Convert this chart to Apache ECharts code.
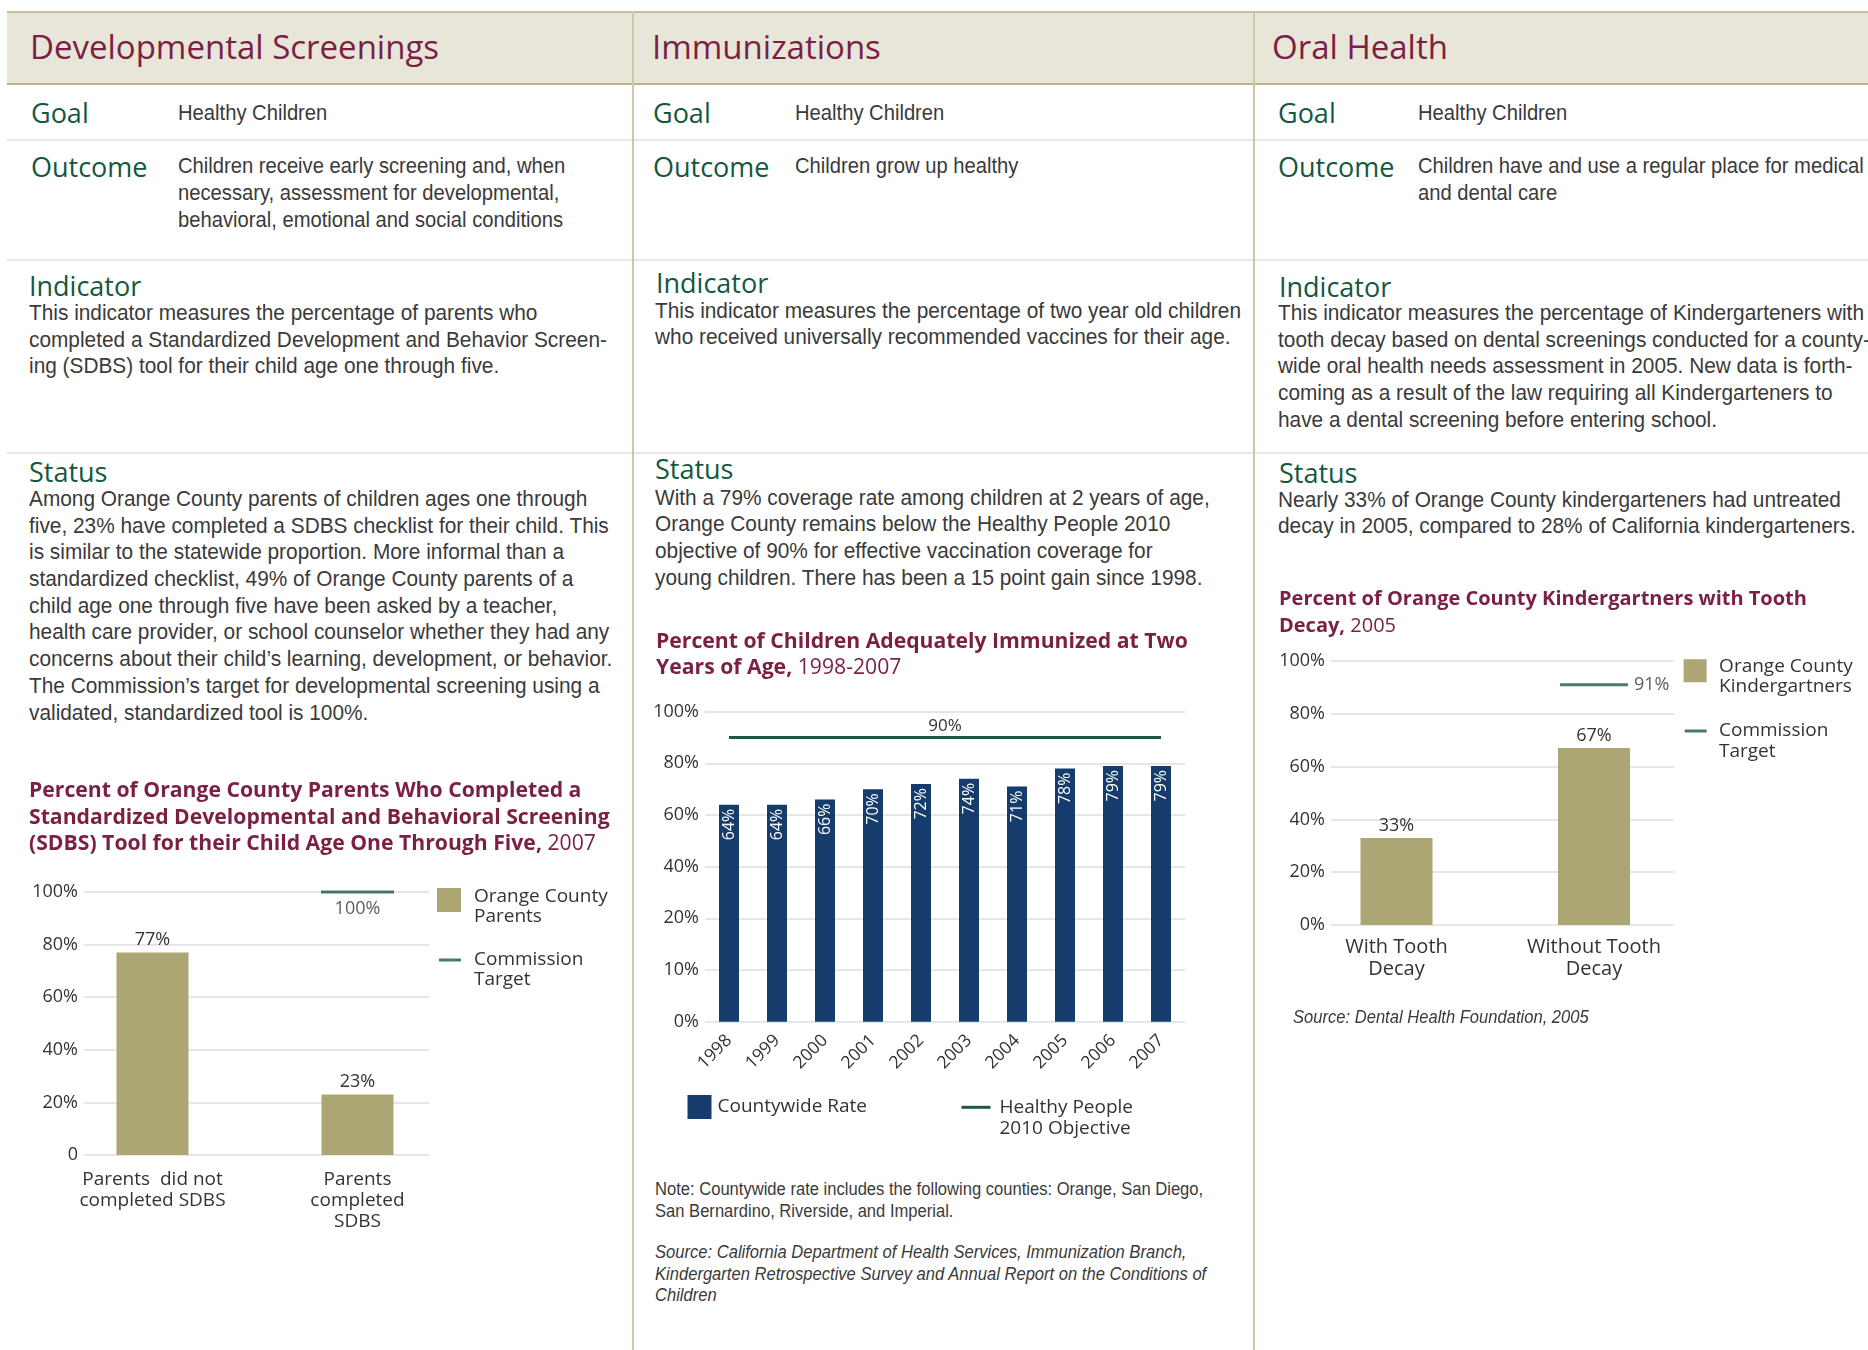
<!DOCTYPE html>
<html>
<head>
<meta charset="utf-8">
<title>Healthy Children indicators</title>
<script src="https://cdn.jsdelivr.net/npm/echarts@6/dist/echarts.min.js"></script>
<style>
  html, body { margin: 0; padding: 0; background: #fff; }
  #page { position: relative; width: 1868px; height: 1350px; overflow: hidden; background: #fff; }
  .band { position: absolute; left: 7px; top: 11px; width: 1861px; height: 70px; background: #e8e5d9;
          border-top: 2px solid #c3bf9c; border-bottom: 2px solid #b8b38d; }
  .vline { position: absolute; top: 11px; width: 2px; height: 1339px; background: #ccc9aa; z-index: 5; }
  .hline { position: absolute; left: 7px; width: 1861px; height: 2px; background: #e7e7e4; }
  .t { position: absolute; white-space: nowrap; z-index: 6; }
  .head { font-family: 'Open Sans', sans-serif; font-size: 33px; color: #7b1f44; line-height: 40px; }
  .lab { font-family: 'Open Sans', sans-serif; font-size: 27px; color: #12593e; line-height: 30px; font-weight: 500; }
  .body { font-family: 'Liberation Sans', Arial, sans-serif; font-size: 22px; line-height: 26.7px; color: #3a3a3a;
          transform: scaleX(0.947); transform-origin: 0 0; }
  .val { transform: scaleX(0.918); }
  .note { font-size: 17.5px; line-height: 22.6px; }
  .src { font-style: italic; line-height: 21.5px; }
  .chart { position: absolute; }
</style>
</head>
<body>
<div id="page">
  <div class="band"></div>
  <div class="hline" style="top:139px"></div>
  <div class="hline" style="top:259px"></div>
  <div class="hline" style="top:452px"></div>

  <!-- column 1 -->
  <div class="t head" style="left:30px;top:26.7px">Developmental Screenings</div>
  <div class="t lab" style="left:31px;top:98.3px">Goal</div>
  <div class="t body val" style="left:178px;top:100px">Healthy Children</div>
  <div class="t lab" style="left:31px;top:151.7px">Outcome</div>
  <div class="t body val" style="left:178px;top:153.3px">Children receive early screening and, when<br>necessary, assessment for developmental,<br>behavioral, emotional and social conditions</div>
  <div class="t lab" style="left:29px;top:271px">Indicator</div>
  <div class="t body" style="left:29px;top:300px">This indicator measures the percentage of parents who<br>completed a Standardized Development and Behavior Screen-<br>ing (SDBS) tool for their child age one through five.</div>
  <div class="t lab" style="left:29px;top:456.8px">Status</div>
  <div class="t body" style="left:29px;top:485.9px">Among Orange County parents of children ages one through<br>five, 23% have completed a SDBS checklist for their child. This<br>is similar to the statewide proportion. More informal than a<br>standardized checklist, 49% of Orange County parents of a<br>child age one through five have been asked by a teacher,<br>health care provider, or school counselor whether they had any<br>concerns about their child’s learning, development, or behavior.<br>The Commission’s target for developmental screening using a<br>validated, standardized tool is 100%.</div>

  <!-- column 2 -->
  <div class="t head" style="left:652px;top:26.7px">Immunizations</div>
  <div class="t lab" style="left:653px;top:98.3px">Goal</div>
  <div class="t body val" style="left:795px;top:100px">Healthy Children</div>
  <div class="t lab" style="left:653px;top:151.7px">Outcome</div>
  <div class="t body val" style="left:795px;top:153.3px">Children grow up healthy</div>
  <div class="t lab" style="left:656px;top:268.3px">Indicator</div>
  <div class="t body" style="left:655px;top:297.7px">This indicator measures the percentage of two year old children<br>who received universally recommended vaccines for their age.</div>
  <div class="t lab" style="left:655px;top:454.4px">Status</div>
  <div class="t body" style="left:655px;top:484.7px">With a 79% coverage rate among children at 2 years of age,<br>Orange County remains below the Healthy People 2010<br>objective of 90% for effective vaccination coverage for<br>young children. There has been a 15 point gain since 1998.</div>
  <div class="t body note" style="left:655px;top:1177.7px">Note: Countywide rate includes the following counties: Orange, San Diego,<br>San Bernardino, Riverside, and Imperial.</div>
  <div class="t body note src" style="left:655px;top:1242px">Source: California Department of Health Services, Immunization Branch,<br>Kindergarten Retrospective Survey and Annual Report on the Conditions of<br>Children</div>

  <!-- column 3 -->
  <div class="t head" style="left:1272px;top:26.7px">Oral Health</div>
  <div class="t lab" style="left:1278px;top:98.3px">Goal</div>
  <div class="t body val" style="left:1418px;top:100px">Healthy Children</div>
  <div class="t lab" style="left:1278px;top:151.7px">Outcome</div>
  <div class="t body val" style="left:1418px;top:153.3px">Children have and use a regular place for medical<br>and dental care</div>
  <div class="t lab" style="left:1279px;top:271.7px">Indicator</div>
  <div class="t body" style="left:1278px;top:300px">This indicator measures the percentage of Kindergarteners with<br>tooth decay based on dental screenings conducted for a county-<br>wide oral health needs assessment in 2005. New data is forth-<br>coming as a result of the law requiring all Kindergarteners to<br>have a dental screening before entering school.</div>
  <div class="t lab" style="left:1279px;top:457.5px">Status</div>
  <div class="t body" style="left:1278px;top:486.7px">Nearly 33% of Orange County kindergarteners had untreated<br>decay in 2005, compared to 28% of California kindergarteners.</div>
  <div class="t body note src" style="left:1293px;top:1007px">Source: Dental Health Foundation, 2005</div>

  <div id="c1" class="chart" style="left:7px;top:760px;width:626px;height:590px"></div>
  <div id="c2" class="chart" style="left:633px;top:620px;width:620px;height:540px"></div>
  <div id="c3" class="chart" style="left:1253px;top:580px;width:615px;height:460px"></div>

  <div class="vline" style="left:632px"></div>
  <div class="vline" style="left:1253px"></div>
</div>

<script>
// developmental screening chart
const sdbsCategories = ['Parents  did not\ncompleted SDBS', 'Parents\ncompleted\nSDBS'];
const sdbsValues = [77, 23];
const sdbsTarget = ['-', 100];

// immunization chart
const immYears = ['1998', '1999', '2000', '2001', '2002', '2003', '2004', '2005', '2006', '2007'];
const immRates = [64, 64, 66, 70, 72, 74, 71, 78, 79, 79];
const immTarget = 90;
const immTicks = [0, 10, 20, 40, 60, 80, 100];   // uneven tick steps on the printed axis

// oral health chart
const decayCategories = ['With Tooth\nDecay', 'Without Tooth\nDecay'];
const decayValues = [33, 67];
const decayTarget = ['-', 91];

const maroon = '#7b1f44';
const tan = '#aca674';
const navy = '#163b6d';
const green = '#1d5a45';
const ink = '#333';
const font = 'Open Sans';

// the immunization axis has evenly spaced ticks for uneven values, map a percent onto tick index
function toAxis(v) {
  for (let i = 1; i < immTicks.length; i++) {
    if (v <= immTicks[i]) return (i - 1) + (v - immTicks[i - 1]) / (immTicks[i] - immTicks[i - 1]);
  }
  return immTicks.length - 1;
}

function richTitle(text, size) {
  return {
    text: text,
    padding: 0,
    textStyle: {
      rich: {
        b: { fontFamily: font, fontSize: size, fontWeight: 'bold', color: maroon, lineHeight: 26.5 },
        n: { fontFamily: font, fontSize: size, fontWeight: 'normal', color: maroon, lineHeight: 26.5 }
      }
    }
  };
}

// legend text: an empty spacer line on top moves the label block against the icon
function legendText(spacer, lh, pad) {
  return {
    padding: [0, 0, 0, pad],
    rich: {
      s: { fontSize: spacer, lineHeight: spacer },
      t: { fontSize: 19, lineHeight: lh, color: ink, fontFamily: font }
    }
  };
}

const gridLine = { lineStyle: { color: '#dedede', width: 1.5 } };

// ---------- chart 1 ----------
const c1 = echarts.init(document.getElementById('c1'));
c1.setOption({
  animation: false,
  textStyle: { fontFamily: font },
  title: Object.assign({ left: 22, top: 18 }, richTitle(
    '{b|Percent of Orange County Parents Who Completed a}\n' +
    '{b|Standardized Developmental and Behavioral Screening}\n' +
    '{b|(SDBS) Tool for their Child Age One Through Five,}{n| 2007}', 21.2)),
  grid: [
    { left: 77, top: 132, width: 345, height: 263 },
    { left: 43, top: 132, width: 410, height: 263 }
  ],
  xAxis: [
    { gridIndex: 0, type: 'category', data: sdbsCategories, show: false },
    { gridIndex: 1, type: 'category', data: sdbsCategories,
      axisLine: { show: false }, axisTick: { show: false },
      axisLabel: { margin: 14, fontSize: 19, lineHeight: 21, color: ink, fontFamily: font } }
  ],
  yAxis: [
    { gridIndex: 0, type: 'value', min: 0, max: 100, interval: 20,
      axisLine: { show: false }, axisTick: { show: false }, splitLine: gridLine,
      axisLabel: { formatter: v => v === 0 ? '0' : v + '%', fontSize: 18, color: ink, margin: 6, fontFamily: font } },
    { gridIndex: 1, type: 'value', min: 0, max: 100, show: false, splitLine: { show: false } }
  ],
  legend: [
    { data: ['Orange County Parents'], left: 430, top: 113.5, padding: 0, itemWidth: 24, itemHeight: 24,
      icon: 'rect', selectedMode: false, formatter: () => '{s| }\n{t|Orange County}\n{t|Parents}',
      textStyle: legendText(13, 20, 8) },
    { data: ['Commission Target'], left: 432, top: 170, padding: 0, itemWidth: 22, itemHeight: 3,
      icon: 'rect', selectedMode: false, formatter: () => '{s| }\n{t|Commission}\n{t|Target}',
      textStyle: legendText(20, 20, 8) }
  ],
  series: [
    { name: 'Orange County Parents', type: 'bar', xAxisIndex: 1, yAxisIndex: 1, data: sdbsValues,
      barWidth: 72, itemStyle: { color: tan },
      label: { show: true, position: 'top', distance: 4, formatter: '{c}%', fontSize: 18, color: ink, fontFamily: font } },
    { name: 'Commission Target', type: 'scatter', xAxisIndex: 1, yAxisIndex: 1, data: sdbsTarget,
      symbol: 'rect', symbolSize: [73, 3], itemStyle: { color: green }, clip: false,
      label: { show: true, position: 'bottom', distance: 6, formatter: '{c}%', fontSize: 18, color: ink, fontFamily: font } }
  ]
});

// ---------- chart 2 ----------
const c2 = echarts.init(document.getElementById('c2'));
c2.setOption({
  animation: false,
  textStyle: { fontFamily: font },
  title: Object.assign({ left: 23, top: 8.5 }, richTitle(
    '{b|Percent of Children Adequately Immunized at Two}\n' +
    '{b|Years of Age,}{n| 1998-2007}', 21.2)),
  grid: { left: 72, top: 91.7, width: 480, height: 310 },
  xAxis: {
    type: 'category', data: immYears,
    axisLine: { show: false }, axisTick: { show: false },
    axisLabel: { rotate: 45, margin: 16, fontSize: 17.5, color: ink, fontFamily: font }
  },
  yAxis: {
    type: 'value', min: 0, max: immTicks.length - 1, interval: 1,
    axisLine: { show: false }, axisTick: { show: false }, splitLine: gridLine,
    axisLabel: { formatter: v => immTicks[v] + '%', fontSize: 18, color: ink, margin: 6, fontFamily: font }
  },
  legend: [
    { data: ['Countywide Rate'], left: 54.5, top: 475, padding: 0, itemWidth: 24, itemHeight: 24,
      icon: 'rect', selectedMode: false,
      textStyle: { fontSize: 19, color: ink, fontFamily: font, padding: [0, 0, 0, 1] } },
    { data: ['Healthy People 2010 Objective'], left: 328.5, top: 455.8, padding: 0, itemWidth: 29, itemHeight: 3,
      icon: 'rect', selectedMode: false, formatter: () => '{s| }\n{t|Healthy People}\n{t|2010 Objective}',
      textStyle: legendText(21, 21, 4) }
  ],
  series: [
    { name: 'Countywide Rate', type: 'bar', data: immRates.map(toAxis), barWidth: 20,
      itemStyle: { color: navy },
      label: { show: true, position: 'insideTop', rotate: 90, align: 'right', verticalAlign: 'middle',
               distance: 4, color: '#fff', fontSize: 16, fontFamily: font,
               formatter: p => immRates[p.dataIndex] + '%' } },
    { name: 'Healthy People 2010 Objective', type: 'line', data: [],
      itemStyle: { color: green }, lineStyle: { color: green },
      markLine: {
        symbol: 'none', silent: true,
        lineStyle: { color: green, width: 3, type: 'solid' },
        label: { show: true, position: 'middle', formatter: immTarget + '%', fontSize: 17, color: ink,
                 fontFamily: font, distance: 3 },
        data: [[{ coord: [immYears[0], toAxis(immTarget)] },
                { coord: [immYears[immYears.length - 1], toAxis(immTarget)] }]]
      } }
  ]
});

// ---------- chart 3 ----------
const c3 = echarts.init(document.getElementById('c3'));
c3.setOption({
  animation: false,
  textStyle: { fontFamily: font },
  title: Object.assign({ left: 26, top: 6.3 }, richTitle(
    '{b|Percent of Orange County Kindergartners with Tooth}\n' +
    '{b|Decay,}{n| 2005}', 20)),
  grid: [
    { left: 78, top: 81, width: 343, height: 264 },
    { left: 44.75, top: 81, width: 395, height: 264 }
  ],
  xAxis: [
    { gridIndex: 0, type: 'category', data: decayCategories, show: false },
    { gridIndex: 1, type: 'category', data: decayCategories,
      axisLine: { show: false }, axisTick: { show: false },
      axisLabel: { margin: 11, fontSize: 20, lineHeight: 22, color: ink, fontFamily: font } }
  ],
  yAxis: [
    { gridIndex: 0, type: 'value', min: 0, max: 100, interval: 20,
      axisLine: { show: false }, axisTick: { show: false }, splitLine: gridLine,
      axisLabel: { formatter: '{value}%', fontSize: 18, color: ink, margin: 6, fontFamily: font } },
    { gridIndex: 1, type: 'value', min: 0, max: 100, show: false, splitLine: { show: false } }
  ],
  legend: [
    { data: ['Orange County Kindergartners'], left: 430.6, top: 64.25, padding: 0, itemWidth: 23, itemHeight: 23,
      icon: 'rect', selectedMode: false, formatter: () => '{s| }\n{t|Orange County}\n{t|Kindergartners}',
      textStyle: legendText(11.5, 20.5, 7.5) },
    { data: ['Commission Target'], left: 431.7, top: 120, padding: 0, itemWidth: 22, itemHeight: 3,
      icon: 'rect', selectedMode: false, formatter: () => '{s| }\n{t|Commission}\n{t|Target}',
      textStyle: legendText(20.5, 20.5, 7.3) }
  ],
  series: [
    { name: 'Orange County Kindergartners', type: 'bar', xAxisIndex: 1, yAxisIndex: 1, data: decayValues,
      barWidth: 72, itemStyle: { color: tan },
      label: { show: true, position: 'top', distance: 3, formatter: '{c}%', fontSize: 18, color: ink, fontFamily: font } },
    { name: 'Commission Target', type: 'scatter', xAxisIndex: 1, yAxisIndex: 1, data: decayTarget,
      symbol: 'rect', symbolSize: [68, 3], itemStyle: { color: green }, clip: false,
      label: { show: true, position: 'right', distance: 6, formatter: '{c}%', fontSize: 18, color: ink, fontFamily: font } }
  ]
});
</script>
</body>
</html>
